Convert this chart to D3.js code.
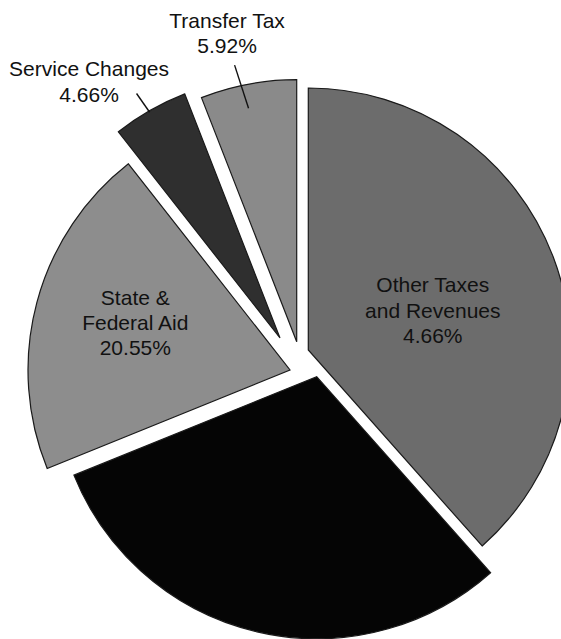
<!DOCTYPE html>
<html>
<head>
<meta charset="utf-8">
<script src="https://cdn.jsdelivr.net/npm/d3@7"></script>
<style>
  html, body { margin: 0; padding: 0; background: #fff; }
  svg { display: block; }
  text { font-family: "Liberation Sans", Arial, sans-serif; }
</style>
</head>
<body>
<svg id="chart" width="561" height="639"></svg>
<script>
// Revenue sources, clockwise from 12 o'clock
const categories = ["Other Taxes and Revenues", "Property Tax", "State & Federal Aid", "Service Changes", "Transfer Tax"];
const values = [38.45, 30.42, 20.55, 4.66, 5.92];
// Text printed on or beside each slice (one entry per line)
const labelLines = [
  ["Other Taxes", "and Revenues", "4.66%"],
  [],
  ["State &", "Federal Aid", "20.55%"],
  ["Service Changes", "4.66%"],
  ["Transfer Tax", "5.92%"]
];
// Which labels sit outside the pie with a leader line
const outsideLabel = [false, false, false, true, true];

// ---- styling / layout ----
const fills = ["#6c6c6c", "#050505", "#8d8d8d", "#2f2f2f", "#8a8a8a"];
const center = [298, 355];
const radius = 262;
// per-slice pull-out from the common centre, in px
const sliceShift = [[10.3, -5], [18.7, 21.7], [-8, 15], [-18, -17], [-1.3, -13.3]];
// inside labels: distance from slice tip as a fraction of the radius, plus a small nudge
const insideLabelFrac = [0.5, 0, 0.615, 0, 0];
const insideNudge = [[2, 6.5], [0, 0], [1, -6], [0, 0], [0, 0]];
// outside labels: leader line from innerFrac*R to outerFrac*R (angles turned by a few degrees),
// text offset from the outer end
const leaderInnerFrac = [0, 0, 0, 0.995, 0.91];
const leaderOuterFrac = 1.082;
const leaderTurnDeg = [null, null, null, [-0.3, -0.7], [-1, -2]];
const outsideTextOffset = [null, null, null, [-47.5, 8], [-7.5, -12]];
const fontSize = 21;
const lineGap = 25.3;

const svg = d3.select("#chart");

const data = categories.map((c, i) => ({ name: c, value: values[i], i }));

const pie = d3.pie()
  .sort(null)
  .value(d => d.value)
  .startAngle(0)
  .endAngle(2 * Math.PI);

const arcs = pie(data);

const arc = d3.arc().innerRadius(0).outerRadius(radius);

const root = svg.append("g").attr("transform", `translate(${center[0]},${center[1]})`);

const slices = root.selectAll("g.slice")
  .data(arcs)
  .join("g")
  .attr("class", "slice")
  .attr("transform", d => `translate(${sliceShift[d.index][0]},${sliceShift[d.index][1]})`);

slices.append("path")
  .attr("d", arc)
  .attr("fill", d => fills[d.index])
  .attr("stroke", "#1a1a1a")
  .attr("stroke-width", 1.2)
  .attr("stroke-linejoin", "miter");

const polar = (r, a) => [r * Math.sin(a), -r * Math.cos(a)];
const mid = d => (d.startAngle + d.endAngle) / 2;
const rad = deg => deg * Math.PI / 180;

// labels inside the larger slices
slices.filter(d => !outsideLabel[d.index] && labelLines[d.index].length)
  .each(function(d) {
    const lines = labelLines[d.index];
    const p = polar(insideLabelFrac[d.index] * radius, mid(d));
    const x = p[0] + insideNudge[d.index][0];
    const y = p[1] + insideNudge[d.index][1];
    const t = d3.select(this).append("text")
      .attr("text-anchor", "middle")
      .attr("font-size", fontSize)
      .attr("fill", "#111");
    const capMid = fontSize * 0.36;
    const firstBaseline = y + capMid - (lines.length - 1) * lineGap / 2;
    lines.forEach((ln, k) => {
      t.append("tspan")
        .attr("x", x)
        .attr("y", firstBaseline + k * lineGap)
        .text(ln);
    });
  });

// labels outside the small slices, joined by a leader line
slices.filter(d => outsideLabel[d.index])
  .each(function(d) {
    const g = d3.select(this);
    const a = mid(d);
    const turn = leaderTurnDeg[d.index];
    const p0 = polar(leaderInnerFrac[d.index] * radius, a + rad(turn[0]));
    const p1 = polar(leaderOuterFrac * radius, a + rad(turn[1]));
    g.append("line")
      .attr("x1", p0[0]).attr("y1", p0[1])
      .attr("x2", p1[0]).attr("y2", p1[1])
      .attr("stroke", "#111")
      .attr("stroke-width", 1.4);
    const lines = labelLines[d.index];
    const off = outsideTextOffset[d.index];
    const x = p1[0] + off[0];
    const lastBaseline = p1[1] + off[1];
    const t = g.append("text")
      .attr("text-anchor", "middle")
      .attr("font-size", fontSize)
      .attr("fill", "#111");
    lines.forEach((ln, k) => {
      t.append("tspan")
        .attr("x", x)
        .attr("y", lastBaseline - (lines.length - 1 - k) * lineGap)
        .text(ln);
    });
  });
</script>
</body>
</html>
